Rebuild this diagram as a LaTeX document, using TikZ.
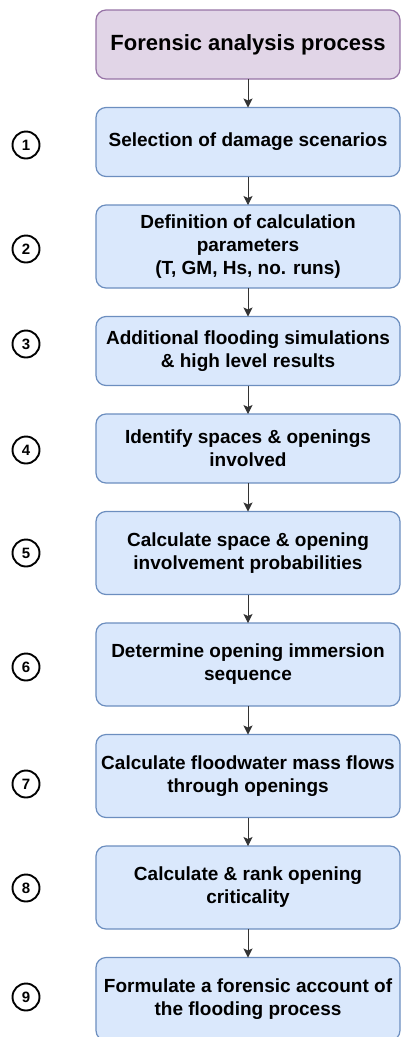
\documentclass[tikz,border=0pt]{standalone}
\usepackage{fontspec}
\setmainfont{Liberation Sans}
\usepackage{tikz}
\usetikzlibrary{arrows.meta,positioning}

\definecolor{stepfill}{HTML}{DAE8FC}
\definecolor{stepline}{HTML}{6C8EBF}
\definecolor{headfill}{HTML}{E1D5E7}
\definecolor{headline}{HTML}{9673A6}
\definecolor{arrowgray}{HTML}{333333}

\begin{document}
\begin{tikzpicture}[x=1pt,y=1pt,->,>={Stealth[length=9pt,width=9pt,inset=2pt]},
                    node distance=28.5pt]

  \tikzstyle{stepbox}=[rectangle,rounded corners=10pt,draw=stepline,fill=stepfill,
                       line width=1.2pt,minimum width=304pt,minimum height=83pt,
                       inner sep=2pt,outer sep=0pt,align=center,
                       font=\bfseries\fontsize{19}{23}\selectfont]
  \tikzstyle{headbox}=[stepbox,draw=headline,fill=headfill,minimum height=69pt,
                       font=\bfseries\fontsize{22}{26}\selectfont]
  \tikzstyle{stepnum}=[circle,draw,line width=1.9pt,minimum size=27pt,inner sep=0pt,
                       font=\bfseries\fontsize{15}{15}\selectfont]
  \tikzstyle{every edge}=[draw=arrowgray,line width=1pt]

  \useasboundingbox (0,0) rectangle (401,-1037);

  \node[headbox] (FA) at (248,-44.5) {Forensic analysis process};
  \node[stepbox,minimum height=69pt] (S1) [below=of FA] {Selection of damage scenarios};
  \node[stepbox] (S2) [below=of S1] {Definition of calculation\\parameters\\(T, GM, Hs, no. runs)};
  \node[stepbox,minimum height=69pt] (S3) [below=of S2] {Additional flooding simulations\\\& high level results};
  \node[stepbox,minimum height=69pt] (S4) [below=of S3] {Identify spaces \& openings\\involved};
  \node[stepbox] (S5) [below=of S4] {Calculate space \& opening\\involvement probabilities};
  \node[stepbox] (S6) [below=of S5] {Determine opening immersion\\sequence};
  \node[stepbox] (S7) [below=of S6] {Calculate floodwater mass flows\\through openings};
  \node[stepbox] (S8) [below=of S7] {Calculate \& rank opening\\criticality};
  \node[stepbox] (S9) [below=of S8] {Formulate a forensic account of\\the flooding process};

  \node[stepnum] (N1) at (26,-145) {1};
  \node[stepnum] (N2) at (26,-249) {2};
  \node[stepnum] (N3) at (26,-344) {3};
  \node[stepnum] (N4) at (26,-450) {4};
  \node[stepnum] (N5) at (26,-553) {5};
  \node[stepnum] (N6) at (26,-667) {6};
  \node[stepnum] (N7) at (26,-784) {7};
  \node[stepnum] (N8) at (26,-888) {8};
  \node[stepnum] (N9) at (26,-997) {9};

  \path (FA) edge (S1)
        (S1) edge (S2)
        (S2) edge (S3)
        (S3) edge (S4)
        (S4) edge (S5)
        (S5) edge (S6)
        (S6) edge (S7)
        (S7) edge (S8)
        (S8) edge (S9);
\end{tikzpicture}
\end{document}
